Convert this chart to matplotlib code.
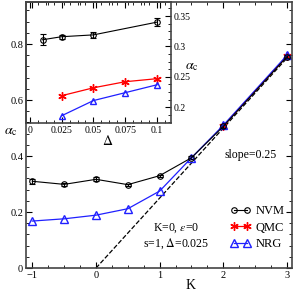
import numpy as np
import matplotlib
matplotlib.use("Agg")
import matplotlib.pyplot as plt
from matplotlib.ticker import MultipleLocator

plt.rcParams['font.family'] = ['Liberation Serif', 'DejaVu Serif']
plt.rcParams['mathtext.fontset'] = 'stix'

# main panel: alpha_c vs K
K = [-1, -0.5, 0, 0.5, 1, 1.5, 2, 3]
nvm = [0.310, 0.299, 0.317, 0.298, 0.330, 0.394, 0.506, 0.755]
nvm_err = [0.008, 0.006, 0.007, 0.004, 0.004, 0.005, 0.005, 0.005]
nrg = [0.168, 0.176, 0.189, 0.212, 0.275, 0.394, 0.510, 0.760]
K_qmc = [2, 3]
qmc = [0.508, 0.757]
slope = 0.25
K_line = np.array([0, 3])

# inset: alpha_c vs Delta
d_nvm = [0.01, 0.025, 0.05, 0.1]
in_nvm = [0.311, 0.316, 0.319, 0.340]
in_nvm_err = [0.009, 0.003, 0.005, 0.007]
d_qmc = [0.025, 0.05, 0.075, 0.1]
in_qmc = [0.219, 0.232, 0.242, 0.247]
d_nrg = [0.025, 0.05, 0.075, 0.1]
in_nrg = [0.186, 0.211, 0.224, 0.237]

fig = plt.figure(figsize=(2.95, 2.93), dpi=100)
ax = fig.add_axes([0.088, 0.085, 0.902, 0.908])
ins = fig.add_axes([0.088, 0.580, 0.492, 0.413])

blue = '#2020ff'
star = dict(color='red', marker=(6, 2, 0), ms=6, lw=0.9, mew=1.0)
circ = dict(color='k', marker='o', ms=4, mfc='none', mew=0.8, lw=0.8)
tri = dict(color=blue, marker='^', ms=6, mfc='none', mew=1.0, lw=0.9)

ax.plot(K_line, slope * K_line, 'k--', lw=0.9)
ax.plot(K_qmc, qmc, **star)
ax.errorbar(K, nvm, yerr=nvm_err, capsize=2.5, elinewidth=0.8, **circ)
ax.plot(K, nrg, **tri)
h1, = ax.plot([], [], **circ)
h2, = ax.plot([], [], **star)
h3, = ax.plot([], [], **tri)

ax.set_xlim(-1.1, 3.08)
ax.set_ylim(0, 0.95)
ax.set_xticks([-1, 0, 1, 2, 3])
ax.xaxis.set_minor_locator(MultipleLocator(0.25))
ax.set_yticks([0, 0.2, 0.4, 0.6, 0.8])
ax.set_yticklabels(['0', '0.2', '0.4', '0.6', '0.8'])
ax.yaxis.set_minor_locator(MultipleLocator(0.04))
ax.tick_params(which='both', direction='in', top=True, right=True, labelsize=7.5, pad=2)
ax.tick_params(which='major', length=4)
ax.tick_params(which='minor', length=2)
ax.set_xlabel('K', fontsize=10)
ax.xaxis.set_label_coords(0.617, -0.04)
ax.set_ylabel(r'$\alpha_{\rm c}$', fontsize=10, rotation=0)
ax.yaxis.set_label_coords(-0.055, 0.49)
for s in ax.spines.values():
    s.set_color('#444444')
    s.set_linewidth(1.2)

ax.text(0.845, 0.425, 'slope=0.25', transform=ax.transAxes, fontsize=8.5,
        ha='center', va='center')
ax.text(0.565, 0.15, r'K=0, $\varepsilon$=0', transform=ax.transAxes, fontsize=8.5,
        ha='center', va='center')
ax.text(0.565, 0.09, r's=1, $\Delta$=0.025', transform=ax.transAxes, fontsize=8.5,
        ha='center', va='center')
ax.legend([h1, h2, h3], ['NVM', 'QMC', 'NRG'], loc='lower right',
          bbox_to_anchor=(1.0, 0.04), numpoints=2, frameon=False,
          fontsize=9, handlelength=1.6, handletextpad=0.4, labelspacing=0.35,
          borderaxespad=0.2)

# inset
ins.errorbar(d_nvm, in_nvm, yerr=in_nvm_err, capsize=2.5, elinewidth=0.8, **circ)
ins.plot(d_qmc, in_qmc, **star)
ins.plot(d_nrg, in_nrg, **dict(tri, ms=5))
ins.set_xlim(-0.003, 0.111)
ins.set_ylim(0.174, 0.373)
ins.set_xticks([0, 0.025, 0.05, 0.075, 0.1])
ins.set_xticklabels(['0', '0.025', '0.05', '0.075', '0.1'])
ins.xaxis.set_minor_locator(MultipleLocator(0.00625))
ins.set_yticks([0.2, 0.25, 0.3, 0.35])
ins.set_yticklabels(['0.2', '0.25', '0.3', '0.35'])
ins.yaxis.set_minor_locator(MultipleLocator(0.0125))
ins.yaxis.tick_right()
ins.tick_params(which='both', direction='in', top=True, left=False, right=True,
                labelsize=7, pad=2)
ins.tick_params(which='major', length=4)
ins.tick_params(which='minor', length=2)
ins.set_xlabel(r'$\Delta$', fontsize=10)
ins.xaxis.set_label_coords(0.565, -0.09)
ins.set_ylabel(r'$\alpha_{\rm c}$', fontsize=10, rotation=0)
ins.yaxis.set_label_position('right')
ins.yaxis.set_label_coords(1.145, 0.52)
for s in ins.spines.values():
    s.set_color('#444444')
    s.set_linewidth(1.2)

# main axes drawn over the inset so its left ticks show through
ax.set_zorder(2)
ax.patch.set_visible(False)
ins.set_zorder(1)

fig.savefig('out.png', dpi=100)
